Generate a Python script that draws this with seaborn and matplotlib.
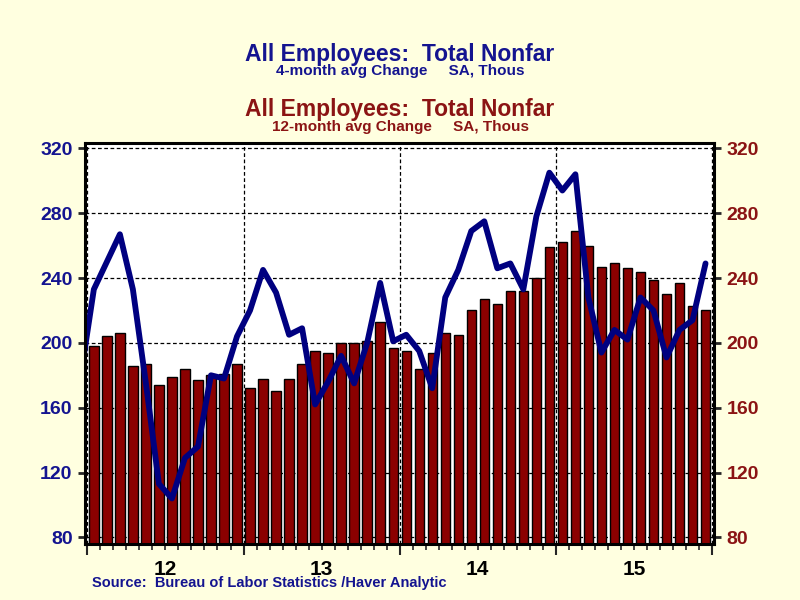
import numpy as np
import pandas as pd
import seaborn as sns
import matplotlib.pyplot as plt
from matplotlib.patches import Rectangle

# 12-month avg change (bars), Jan 2012 .. Dec 2015
avg12 = [198, 204, 206, 186, 187, 174, 179, 184, 177, 180, 181, 187,
         172, 178, 170, 178, 187, 195, 194, 200, 200, 201, 213, 197,
         195, 184, 194, 206, 205, 220, 227, 224, 232, 232, 240, 259,
         262, 269, 260, 247, 249, 246, 244, 239, 230, 237, 223, 220]

# 4-month avg change (line), Dec 2011 .. Dec 2015
avg4 = [180,
        233, 250, 267, 233, 175, 113, 104, 129, 136, 180, 178, 204,
        220, 245, 231, 205, 209, 162, 176, 192, 175, 200, 237, 201,
        205, 195, 172, 228, 245, 269, 275, 246, 249, 233, 278, 305,
        294, 304, 228, 194, 208, 202, 228, 220, 191, 208, 214, 249]

years = ['12', '13', '14', '15']
yticks = [80, 120, 160, 200, 240, 280, 320]

navy = '#141490'
dred = '#8B1414'
bg = '#FFFFE0'

bars = pd.DataFrame({'x': np.arange(len(avg12)) + 0.5, 'value': avg12})
line = pd.DataFrame({'x': np.arange(len(avg4)) - 0.5, 'value': avg4})

sns.set_style('white')
plt.rcParams['font.family'] = ['Liberation Sans', 'DejaVu Sans']
plt.rcParams['font.weight'] = 'bold'

fig = plt.figure(figsize=(8, 6), dpi=100, facecolor=bg)
ax = fig.add_axes([0.10625, 0.0933, 0.78625, 0.6689])
ax.set_facecolor('white')

sns.barplot(data=bars, x='x', y='value', native_scale=True, width=0.72,
            color='#8B0000', saturation=1, edgecolor='black', linewidth=1,
            errorbar=None, ax=ax, zorder=2)
sns.lineplot(data=line, x='x', y='value', color='#000080', linewidth=4.2,
             ax=ax, zorder=3)
# the line is cut at the start of the first month
clip = Rectangle((0, 0), 48, 400, transform=ax.transData)
ax.lines[-1].set_clip_path(clip)
ax.lines[-1].set_solid_joinstyle('round')

ax.set_xlim(-0.18, 48.15)
ax.set_ylim(75.9, 323.5)
ax.set_xlabel('')
ax.set_ylabel('')

# grid
for yv in yticks:
    ax.axhline(yv, color='black', lw=0.9, ls=(0, (3, 2)), zorder=1)
for xv in range(0, 49, 12):
    ax.axvline(xv, color='black', lw=0.9, ls=(0, (3, 2)), zorder=1)

for s in ax.spines.values():
    s.set_visible(True)
    s.set_linewidth(2.2)
    s.set_color('black')

# y ticks on both sides
ax.set_yticks(yticks)
ax.tick_params(axis='y', which='major', left=True, right=True,
               labelleft=True, labelright=True, length=5, width=2,
               pad=4, labelsize=14, direction='out')
for t in ax.yaxis.get_major_ticks():
    t.label1.set_color(navy)
    t.label2.set_color(dred)
    t.label1.set_fontweight('bold')
    t.label2.set_fontweight('bold')

# x ticks: years long, months short
ax.set_xticks(range(0, 49, 12))
ax.set_xticklabels([])
ax.set_xticks(range(0, 49), minor=True)
ax.tick_params(axis='x', which='major', bottom=True, length=8, width=1.5,
               direction='out')
ax.tick_params(axis='x', which='minor', bottom=True, length=4.5, width=1.2,
               direction='out')
for i, yr in enumerate(years):
    ax.text(12 * i + 6, -0.041, yr, transform=ax.get_xaxis_transform(),
            ha='center', va='top', fontsize=15, fontweight='bold',
            color='black')

# titles
fig.text(0.5, 1 - 54 / 600, 'All Employees:  Total Nonfar', ha='center',
         va='center', fontsize=16.5, fontweight='bold', color=navy)
fig.text(0.5, 1 - 71.5 / 600, '4-month avg Change     SA, Thous',
         ha='center', va='center', fontsize=11, fontweight='bold', color=navy)
fig.text(0.5, 1 - 109.5 / 600, 'All Employees:  Total Nonfar', ha='center',
         va='center', fontsize=16.5, fontweight='bold', color=dred)
fig.text(0.5, 1 - 127 / 600, '12-month avg Change     SA, Thous',
         ha='center', va='center', fontsize=11, fontweight='bold', color=dred)

fig.text(92 / 800, 1 - 583 / 600,
         'Source:  Bureau of Labor Statistics /Haver Analytic',
         ha='left', va='center', fontsize=10.5, fontweight='bold', color=navy)

fig.savefig('out.png', dpi=100, facecolor=bg)
